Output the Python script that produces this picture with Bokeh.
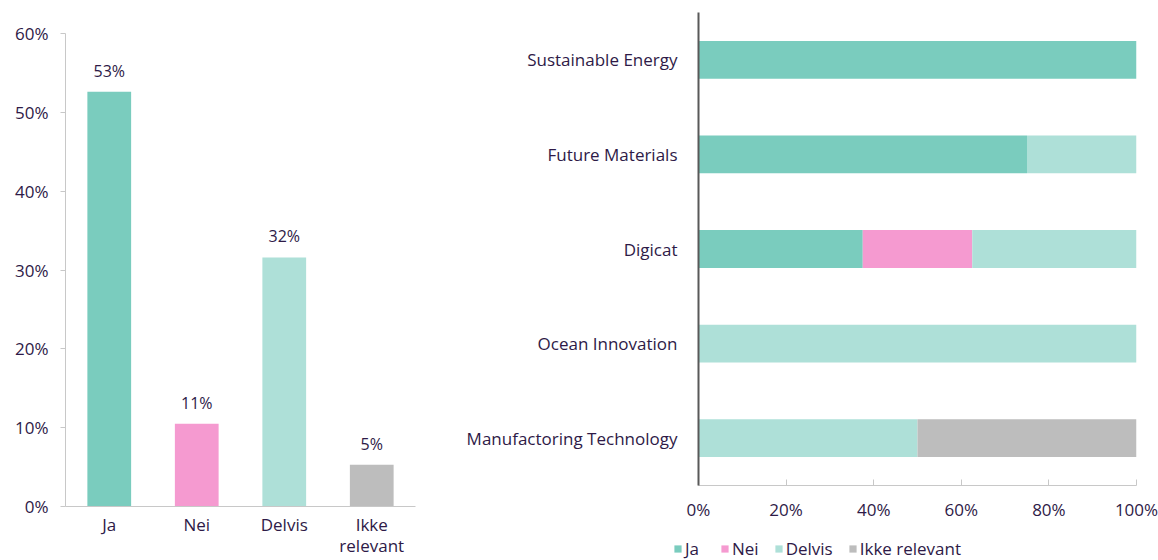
from bokeh.plotting import figure
from bokeh.models import (FactorRange, Range1d, FixedTicker, NumeralTickFormatter,
                          ColumnDataSource, LabelSet, Legend, LegendItem)
from bokeh.core.properties import value
from bokeh.layouts import row, column
from bokeh.embed import file_html
from bokeh.resources import INLINE

# ---------------- data ----------------
answers = ["Ja", "Nei", "Delvis", "Ikke\nrelevant"]
answer_share = [0.526, 0.105, 0.316, 0.053]
answer_labels = ["53%", "11%", "32%", "5%"]

projects = ["Sustainable Energy", "Future Materials", "Digicat",
            "Ocean Innovation", "Manufactoring Technology"]
ja = [1.0, 0.75, 0.375, 0.0, 0.0]
nei = [0.0, 0.0, 0.25, 0.0, 0.0]
delvis = [0.0, 0.25, 0.375, 1.0, 0.5]
ikke = [0.0, 0.0, 0.0, 0.0, 0.5]

y_ticks = [0, 0.1, 0.2, 0.3, 0.4, 0.5, 0.6]
x_ticks = [0, 0.2, 0.4, 0.6, 0.8, 1.0]

series_names = ["Ja", "Nei", "Delvis", "Ikke relevant"]
series_colors = ["#7accbe", "#f59ad0", "#aee0d8", "#bdbdbd"]
TXT = "#2e1a47"
FONT = "Open Sans"
FS = "17px"

# ---------------- left chart ----------------
p1 = figure(x_range=FactorRange(*answers), y_range=Range1d(0, 0.6),
            width=438, height=560, output_backend="svg", toolbar_location=None,
            min_border_left=65, min_border_right=23, min_border_top=33, min_border_bottom=52)
p1.frame_align = False
p1.outline_line_color = None
p1.grid.grid_line_color = None

src1 = ColumnDataSource(dict(x=answers, y=answer_share, lab=answer_labels,
                             c=series_colors))
p1.vbar(x="x", top="y", width=0.5, fill_color="c", line_color=None, source=src1)
p1.add_layout(LabelSet(x="x", y="y", text="lab", source=src1, y_offset=10,
                       text_align="center", text_baseline="bottom",
                       text_font_size="16px", text_color=TXT, text_font=value(FONT)))

p1.yaxis.ticker = FixedTicker(ticks=y_ticks)
p1.yaxis.formatter = NumeralTickFormatter(format="0%")
p1.yaxis.major_tick_out = 5
p1.yaxis.major_tick_in = 0
p1.yaxis.minor_tick_line_color = None
p1.yaxis.axis_line_color = "#c8c8c8"
p1.yaxis.major_tick_line_color = "#c8c8c8"
p1.yaxis.major_label_standoff = 12

p1.xaxis.major_tick_line_color = None
p1.xaxis.axis_line_color = "#c8c8c8"
p1.xaxis.major_label_standoff = 0
p1.xaxis.major_label_text_line_height = 0.95

for ax in (p1.xaxis, p1.yaxis):
    ax.major_label_text_font_size = FS
    ax.major_label_text_color = TXT
    ax.major_label_text_font = FONT

# ---------------- right chart ----------------
p2 = figure(y_range=FactorRange(*projects[::-1]), x_range=Range1d(0, 1),
            width=720, height=530, output_backend="svg", toolbar_location=None,
            min_border_left=260, min_border_right=22, min_border_top=12, min_border_bottom=45)
p2.frame_align = False
p2.outline_line_color = None
p2.grid.grid_line_color = None

src2 = ColumnDataSource(dict(y=projects, Ja=ja, Nei=nei, Delvis=delvis, Ikke=ikke))
keys = ["Ja", "Nei", "Delvis", "Ikke"]
p2.hbar_stack(keys, y="y", height=0.4, source=src2,
              color=series_colors, line_color=None)

p2.xaxis.ticker = FixedTicker(ticks=x_ticks)
p2.xaxis.formatter = NumeralTickFormatter(format="0%")
p2.xaxis.major_tick_in = 6
p2.xaxis.major_tick_out = 0
p2.xaxis.minor_tick_line_color = None
p2.xaxis.axis_line_color = "#c8c8c8"
p2.xaxis.major_tick_line_color = "#c8c8c8"
p2.xaxis.major_label_standoff = 12

p2.yaxis.axis_line_color = "#595959"
p2.yaxis.axis_line_width = 2
p2.yaxis.major_tick_line_color = None
p2.yaxis.minor_tick_line_color = None
p2.yaxis.major_label_standoff = 15

for ax in (p2.xaxis, p2.yaxis):
    ax.major_label_text_font_size = FS
    ax.major_label_text_color = TXT
    ax.major_label_text_font = FONT

# ---------------- legend strip ----------------
pl = figure(width=720, height=30, output_backend="svg", toolbar_location=None,
            x_range=Range1d(0, 1), y_range=Range1d(0, 1),
            x_axis_location=None, y_axis_location=None,
            min_border_left=0, min_border_right=0, min_border_top=0, min_border_bottom=0)
pl.frame_align = False
pl.outline_line_color = None
pl.grid.grid_line_color = None
leg_rs = [pl.hbar(y=[-5], right=[-5], height=0.1, color=c, line_color=None)
          for c in series_colors]
legend = Legend(items=[LegendItem(label=n, renderers=[r]) for n, r in zip(series_names, leg_rs)],
                orientation="horizontal", location=(235, 0),
                border_line_color=None, background_fill_alpha=0,
                glyph_width=9, glyph_height=9, label_standoff=3, spacing=15,
                padding=0, margin=0, label_height=16,
                label_text_font_size=FS, label_text_color=TXT, label_text_font=FONT)
pl.add_layout(legend, "center")

layout = row(p1, column(p2, pl, spacing=0), spacing=0)
open("out.html", "w").write(file_html(layout, INLINE))
